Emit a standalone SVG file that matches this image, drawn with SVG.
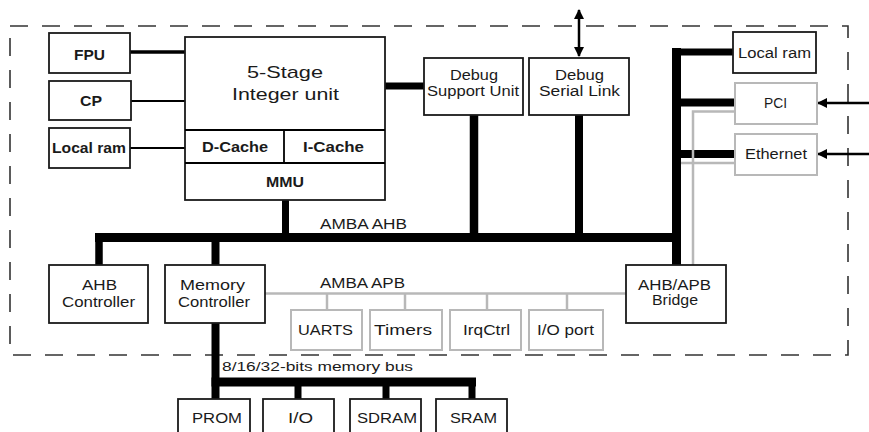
<svg xmlns="http://www.w3.org/2000/svg" width="869" height="432" viewBox="0 0 869 432">
<style>
.b{fill:#fff;stroke:#1a1a1a;stroke-width:1.8}
.g{fill:#fff;stroke:#b8b8b8;stroke-width:2}
.t{font-family:"Liberation Sans",Arial,sans-serif;font-size:14px;fill:#1a1a1a}
.tb{font-weight:bold}
.big{font-size:17px}
.k{stroke:#000;fill:none}
.gl{stroke:#b8b8b8;fill:none;stroke-width:2.5}
</style>
<defs>
<marker id="ah" viewBox="0 0 10 10" refX="9" refY="5" markerWidth="4" markerHeight="4" orient="auto-start-reverse" markerUnits="strokeWidth">
<path d="M0,0 L10,5 L0,10 Z" fill="#000"/>
</marker>
</defs>
<rect width="869" height="432" fill="#fff"/>
<rect id="boundary" x="10" y="26" width="838" height="329" fill="none" stroke="#333" stroke-width="1.6" stroke-dasharray="18 14"/>

<g id="connectors">
<line class="k" x1="130" y1="52" x2="185" y2="52" stroke-width="3.5"/>
<line class="k" x1="131" y1="101" x2="185" y2="101" stroke-width="2"/>
<line class="k" x1="130" y1="148" x2="185" y2="148" stroke-width="2"/>
<line class="k" x1="385" y1="86" x2="424" y2="86" stroke-width="7"/>
<line class="k" x1="285.5" y1="200" x2="285.5" y2="237" stroke-width="7"/>
<line class="k" x1="95" y1="237.5" x2="681" y2="237.5" stroke-width="9"/>
<line class="k" x1="99" y1="237" x2="99" y2="265" stroke-width="7.5"/>
<line class="k" x1="215.5" y1="237" x2="215.5" y2="265" stroke-width="8"/>
<line class="k" x1="474" y1="115" x2="474" y2="237" stroke-width="8.5"/>
<line class="k" x1="579" y1="115" x2="579" y2="237" stroke-width="8"/>
<line class="k" x1="676.5" y1="48" x2="676.5" y2="265" stroke-width="9"/>
<line class="k" x1="672" y1="52" x2="733" y2="52" stroke-width="7"/>
<line class="k" x1="676" y1="102.5" x2="735" y2="102.5" stroke-width="8"/>
<line class="k" x1="676" y1="154" x2="735" y2="154" stroke-width="8"/>
<polyline class="gl" points="735,111.5 693,111.5 693,265"/>
<line class="gl" x1="681" y1="163" x2="735" y2="163"/>
<line class="gl" x1="265" y1="293.5" x2="626" y2="293.5" stroke-width="3"/>
<line class="gl" x1="327" y1="293" x2="327" y2="310"/>
<line class="gl" x1="405" y1="293" x2="405" y2="310"/>
<line class="gl" x1="487" y1="293" x2="487" y2="310"/>
<line class="gl" x1="567" y1="293" x2="567" y2="310"/>
<line class="k" x1="215.5" y1="323" x2="215.5" y2="399" stroke-width="8"/>
<line class="k" x1="211.5" y1="382" x2="476" y2="382" stroke-width="9"/>
<line class="k" x1="298" y1="382" x2="298" y2="399" stroke-width="7"/>
<line class="k" x1="386" y1="382" x2="386" y2="399" stroke-width="7"/>
<line class="k" x1="472" y1="382" x2="472" y2="399" stroke-width="7"/>
<line class="k" x1="579" y1="10" x2="579" y2="56" stroke-width="2.5" marker-start="url(#ah)" marker-end="url(#ah)"/>
<line class="k" x1="869" y1="103" x2="818" y2="103" stroke-width="2.5" marker-end="url(#ah)"/>
<line class="k" x1="869" y1="154" x2="818" y2="154" stroke-width="2.5" marker-end="url(#ah)"/>
</g>

<g id="fpu"><rect class="b" x="49" y="33" width="81" height="40"/><text class="t tb" x="74" y="60" textLength="31" lengthAdjust="spacingAndGlyphs">FPU</text></g>
<g id="cp"><rect class="b" x="49" y="81" width="82" height="39"/><text class="t tb" x="80" y="106" textLength="22" lengthAdjust="spacingAndGlyphs">CP</text></g>
<g id="localram-left"><rect class="b" x="49" y="128" width="81" height="40"/><text class="t tb" x="52" y="153" textLength="74" lengthAdjust="spacingAndGlyphs">Local ram</text></g>
<g id="integer-unit">
<rect class="b" x="185" y="37" width="200" height="163"/>
<line class="k" x1="185" y1="130" x2="385" y2="130" stroke-width="1.8"/>
<line class="k" x1="185" y1="163" x2="385" y2="163" stroke-width="2.2"/>
<line class="k" x1="284" y1="130" x2="284" y2="163" stroke-width="1.8"/>
<text class="t big" x="247" y="78" textLength="76" lengthAdjust="spacingAndGlyphs">5-Stage</text>
<text class="t big" x="232" y="100" textLength="107" lengthAdjust="spacingAndGlyphs">Integer unit</text>
<text class="t tb" x="202" y="152" textLength="66" lengthAdjust="spacingAndGlyphs">D-Cache</text>
<text class="t tb" x="303" y="152" textLength="61" lengthAdjust="spacingAndGlyphs">I-Cache</text>
<text class="t tb" x="266" y="187" textLength="38" lengthAdjust="spacingAndGlyphs">MMU</text>
</g>
<g id="dsu"><rect class="b" x="424" y="58" width="99" height="57"/><text class="t" x="450" y="80" textLength="48" lengthAdjust="spacingAndGlyphs">Debug</text><text class="t" x="427" y="96" textLength="92" lengthAdjust="spacingAndGlyphs">Support Unit</text></g>
<g id="dsl"><rect class="b" x="529" y="58" width="100" height="57"/><text class="t" x="555" y="80" textLength="49" lengthAdjust="spacingAndGlyphs">Debug</text><text class="t" x="539" y="96" textLength="81" lengthAdjust="spacingAndGlyphs">Serial Link</text></g>
<g id="localram-right"><rect class="b" x="733" y="32" width="83" height="41"/><text class="t" x="738" y="58" textLength="73" lengthAdjust="spacingAndGlyphs">Local ram</text></g>
<g id="pci"><rect class="g" x="735" y="83" width="82" height="41"/><text class="t" x="764" y="108" textLength="23" lengthAdjust="spacingAndGlyphs">PCI</text></g>
<g id="ethernet"><rect class="g" x="735" y="134" width="82" height="41"/><text class="t" x="745" y="159" textLength="62" lengthAdjust="spacingAndGlyphs">Ethernet</text></g>
<g id="amba-ahb"><text class="t" x="320" y="229" textLength="87" lengthAdjust="spacingAndGlyphs">AMBA AHB</text></g>
<g id="ahb-controller"><rect class="b" x="49" y="265" width="99" height="58"/><text class="t" x="82" y="290" textLength="35" lengthAdjust="spacingAndGlyphs">AHB</text><text class="t" x="62" y="307" textLength="73" lengthAdjust="spacingAndGlyphs">Controller</text></g>
<g id="memory-controller"><rect class="b" x="165" y="265" width="100" height="58"/><text class="t" x="180" y="290" textLength="65" lengthAdjust="spacingAndGlyphs">Memory</text><text class="t" x="178" y="307" textLength="72" lengthAdjust="spacingAndGlyphs">Controller</text></g>
<g id="amba-apb"><text class="t" x="320" y="288" textLength="85" lengthAdjust="spacingAndGlyphs">AMBA APB</text></g>
<g id="uarts"><rect class="g" x="291" y="310" width="71" height="40"/><text class="t" x="298" y="335" textLength="55" lengthAdjust="spacingAndGlyphs">UARTS</text></g>
<g id="timers"><rect class="g" x="370" y="310" width="72" height="40"/><text class="t" x="374" y="335" textLength="58" lengthAdjust="spacingAndGlyphs">Timers</text></g>
<g id="irqctrl"><rect class="g" x="450" y="310" width="71" height="40"/><text class="t" x="463" y="335" textLength="47" lengthAdjust="spacingAndGlyphs">IrqCtrl</text></g>
<g id="ioport"><rect class="g" x="529" y="310" width="74" height="40"/><text class="t" x="537" y="335" textLength="57" lengthAdjust="spacingAndGlyphs">I/O port</text></g>
<g id="bridge"><rect class="b" x="626" y="265" width="100" height="58"/><text class="t" x="638" y="290" textLength="73" lengthAdjust="spacingAndGlyphs">AHB/APB</text><text class="t" x="652" y="305" textLength="46" lengthAdjust="spacingAndGlyphs">Bridge</text></g>
<g id="memory-bus-label"><text class="t" x="222" y="371" textLength="191" lengthAdjust="spacingAndGlyphs" style="font-size:13px">8/16/32-bits memory bus</text></g>
<g id="prom"><rect class="b" x="178" y="399" width="72" height="40"/><text class="t" x="192" y="423" textLength="50" lengthAdjust="spacingAndGlyphs">PROM</text></g>
<g id="io"><rect class="b" x="263" y="399" width="71" height="40"/><text class="t" x="288" y="423" textLength="25" lengthAdjust="spacingAndGlyphs">I/O</text></g>
<g id="sdram"><rect class="b" x="350" y="399" width="71" height="40"/><text class="t" x="357" y="423" textLength="60" lengthAdjust="spacingAndGlyphs">SDRAM</text></g>
<g id="sram"><rect class="b" x="436" y="399" width="71" height="40"/><text class="t" x="450" y="423" textLength="47" lengthAdjust="spacingAndGlyphs">SRAM</text></g>
</svg>
